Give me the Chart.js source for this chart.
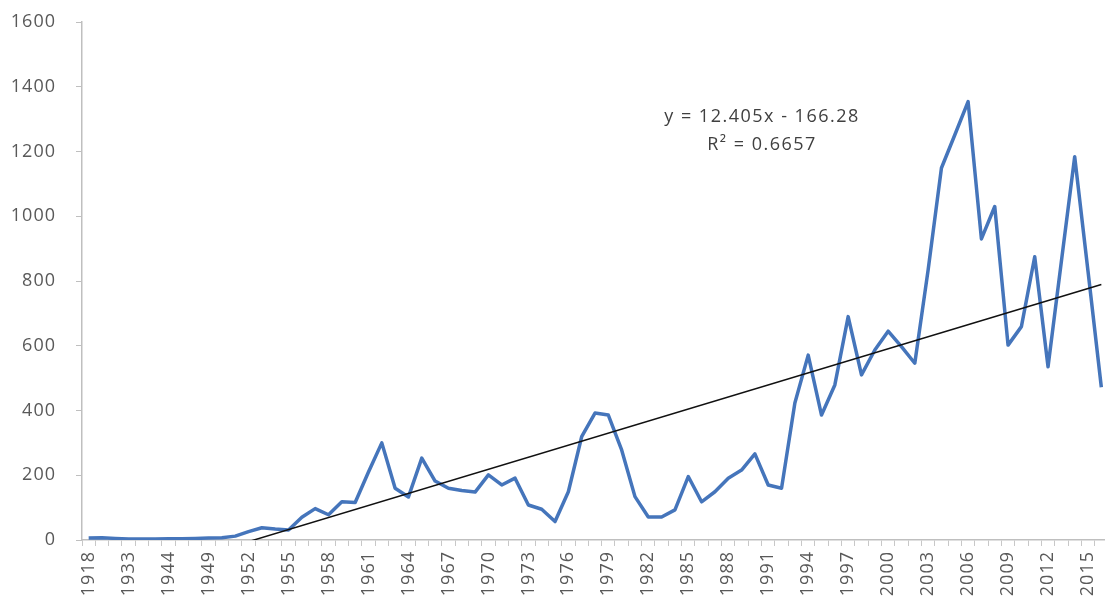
<!DOCTYPE html>
<html>
<head>
<meta charset="utf-8">
<script src="https://cdn.jsdelivr.net/npm/chart.js@4"></script>
<style>
  html, body { margin: 0; padding: 0; background: #fff; overflow: hidden; }
  #chart { display: block; }
</style>
</head>
<body>
<canvas id="chart" width="1110" height="607"></canvas>
<script>
'use strict';

// years on the category axis (early ones are not contiguous)
let years = [1918, 1925, 1929, 1933, 1936, 1940, 1944, 1946, 1947];
for (let y = 1949; y <= 2016; y++) {
  years.push(y);
}

let counts = [
  6, 7, 5, 3, 3, 3, 4, 4, 5,
  6, 7, 12, 26, 38, 34, 31, 70, 97, 78,
  118, 116, 210, 300, 160, 133, 253, 182, 160, 153,
  148, 201, 170, 191, 108, 95, 57, 149, 319, 392,
  386, 278, 134, 71, 71, 93, 196, 118, 149, 191,
  216, 266, 170, 160, 423, 571, 386, 479, 690, 510,
  587, 645, 597, 546, 834, 1149, 1251, 1354, 930, 1030,
  602, 659, 875, 535, 860, 1184, 830, 472
];

let yTicks = [0, 200, 400, 600, 800, 1000, 1200, 1400, 1600];

// linear trendline shown on the chart: y = 12.405x - 166.28
const trendSlope = 12.405;
const trendIntercept = -166.28;
const trendText = ['y = 12.405x - 166.28', 'R² = 0.6657'];

let trend = years.map(() => null);
trend[0] = trendSlope * 1 + trendIntercept;
trend[years.length - 1] = trendSlope * years.length + trendIntercept;

const axisFont = { family: 'Open Sans', size: 18 };
const textColor = '#595959';

// wider letter spacing, the original text is stretched a bit
const spacing = {
  id: 'spacing',
  beforeDraw(chart) {
    chart.ctx.letterSpacing = '1px';
  }
};

// draws the trendline equation
const equationLabel = {
  id: 'equationLabel',
  afterDraw(chart) {
    const ctx = chart.ctx;
    ctx.save();
    ctx.letterSpacing = '1.5px';
    ctx.font = '18px "Open Sans"';
    ctx.fillStyle = '#404040';
    ctx.textAlign = 'center';
    ctx.textBaseline = 'alphabetic';
    ctx.fillText(trendText[0], 762, 122);
    ctx.fillText(trendText[1], 762, 150);
    ctx.restore();
  }
};

function noPadding(scale) {
  scale.paddingTop = 0;
  scale.paddingBottom = 0;
  scale.paddingLeft = 0;
  scale.paddingRight = 0;
}

const config = {
  type: 'line',
  data: {
    labels: years,
    datasets: [{
      label: 'count',
      data: counts,
      borderColor: '#4575bb',
      borderWidth: 3.5,
      borderJoinStyle: 'round',
      pointRadius: 0,
      tension: 0,
      order: 2
    }, {
      label: 'trend',
      data: trend,
      spanGaps: true,
      borderColor: '#111111',
      borderWidth: 1.5,
      pointRadius: 0,
      tension: 0,
      order: 1
    }]
  },
  options: {
    responsive: false,
    animation: false,
    devicePixelRatio: 1,
    layout: { padding: { left: 0, top: 22, right: 2, bottom: 0 } },
    plugins: {
      legend: { display: false },
      tooltip: { enabled: false }
    },
    scales: {
      x: {
        type: 'category',
        offset: true,
        border: { color: '#bfbfbf', width: 1.5 },
        grid: { drawOnChartArea: false, drawTicks: true, tickLength: 6, color: '#c8c8c8', offset: true },
        ticks: {
          autoSkip: false,
          maxRotation: 90,
          minRotation: 90,
          padding: 5,
          color: textColor,
          font: axisFont,
          callback: function (value, index) {
            return index % 3 === 0 ? String(years[index]) : '';
          }
        },
        afterFit: function (scale) {
          scale.height = 67;
          noPadding(scale);
        }
      },
      y: {
        min: yTicks[0],
        max: yTicks[yTicks.length - 1],
        border: { color: '#bfbfbf', width: 1.5 },
        grid: { drawOnChartArea: false, drawTicks: true, tickLength: 6, color: '#bfbfbf' },
        afterBuildTicks: function (scale) {
          scale.ticks = yTicks.map(v => ({ value: v }));
        },
        ticks: {
          padding: 20,
          color: textColor,
          font: axisFont,
          callback: function (value) { return String(value); }
        },
        afterFit: function (scale) {
          scale.width = 82;
          noPadding(scale);
        }
      }
    }
  },
  plugins: [spacing, equationLabel]
};

const canvas = document.getElementById('chart');
const myChart = new Chart(canvas, config);
</script>
</body>
</html>
